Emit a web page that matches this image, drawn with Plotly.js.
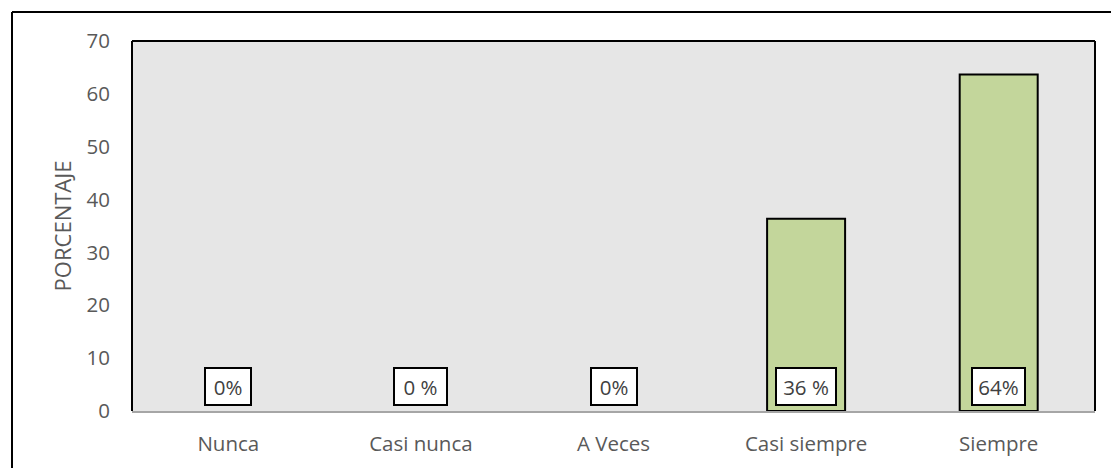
<!DOCTYPE html>
<html>
<head>
<meta charset="utf-8">
<script src="https://cdn.plot.ly/plotly-3.0.1.min.js"></script>
<style>
  html, body { margin: 0; padding: 0; background: #fff; overflow: hidden; }
  #chart { position: absolute; left: 0; top: 0; width: 1111px; height: 468px; }
</style>
</head>
<body>
<div id="chart"></div>
<script>
const categories = ["Nunca", "Casi nunca", "A Veces", "Casi siempre", "Siempre"];
const values = [0, 0, 0, 36.36, 63.64];
const labels = ["0%", "0 %", "0%", "36 %", "64%"];
const labelY = 4.7;
const yTicks = [0, 10, 20, 30, 40, 50, 60, 70];

const font = "'Open Sans', 'Liberation Sans', sans-serif";

const trace = {
  type: "bar",
  x: categories,
  y: values,
  marker: { color: "#c3d69b", line: { color: "#000", width: values.map(v => v > 0 ? 2 : 0) } },
  hoverinfo: "skip"
};

const annotations = categories.map((c, i) => ({
  x: c, y: labelY, xref: "x", yref: "y",
  text: labels[i], showarrow: false,
  font: { family: font, size: 20.5, color: "#404040" },
  bgcolor: "#fff", bordercolor: "#000", borderwidth: 2, borderpad: 5,
  width: labels[i].length * 7 + 20, height: 25
}));

// plot area in px: left 132, right 1095, top 41, bottom 411
const W = 963, H = 370;
const layout = {
  width: 1111, height: 468,
  margin: { l: 132, r: 16, t: 41, b: 57 },
  paper_bgcolor: "#fff",
  plot_bgcolor: "#e6e6e6",
  bargap: 0.595,
  showlegend: false,
  xaxis: {
    type: "category",
    showgrid: false, zeroline: false,
    showline: true, linecolor: "#a6a6a6", linewidth: 2,
    ticks: "", ticklabelstandoff: 13,
    tickfont: { family: font, size: 20.5, color: "#595959" }
  },
  yaxis: {
    range: [0, 70], tickvals: yTicks,
    showgrid: false, zeroline: false, showline: false,
    ticks: "", ticklabelstandoff: 21,
    tickfont: { family: font, size: 20.5, color: "#595959" },
    title: { text: "PORCENTAJE", standoff: 8, font: { family: font, size: 22, color: "#595959" } }
  },
  shapes: [
    { type: "line", xref: "paper", yref: "paper", x0: 0, x1: 0, y0: 0, y1: 1, line: { color: "#000", width: 2 } },
    { type: "line", xref: "paper", yref: "paper", x0: 0, x1: 1, y0: 1, y1: 1, line: { color: "#000", width: 2 } },
    { type: "line", xref: "paper", yref: "paper", x0: 1, x1: 1, y0: 0, y1: 1, line: { color: "#000", width: 2 } },
    { type: "line", xref: "paper", yref: "paper", x0: (12 - 132) / W, x1: (12 - 132) / W, y0: -0.3, y1: 1 + (41 - 12) / H, line: { color: "#000", width: 2 } },
    { type: "line", xref: "paper", yref: "paper", x0: (12 - 132) / W, x1: 1.1, y0: 1 + (41 - 12) / H, y1: 1 + (41 - 12) / H, line: { color: "#000", width: 2 } }
  ],
  annotations: annotations
};

Plotly.newPlot("chart", [trace], layout, { displayModeBar: false, staticPlot: true });
</script>
</body>
</html>
